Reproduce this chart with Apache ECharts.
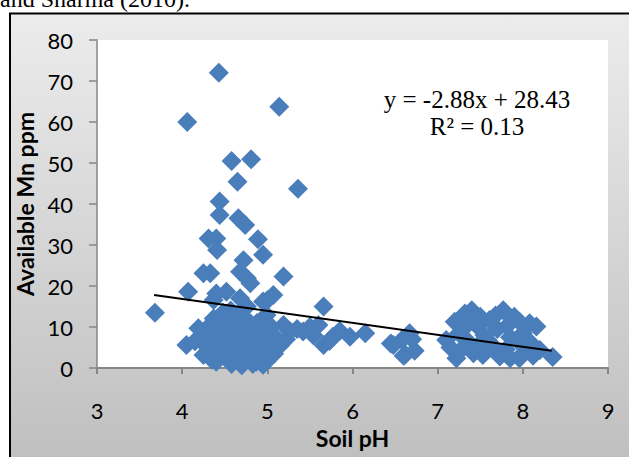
<!DOCTYPE html>
<html>
<head>
<meta charset="utf-8">
<title>Soil pH vs Available Mn</title>
<script src="https://cdn.jsdelivr.net/npm/echarts@6/dist/echarts.min.js"></script>
<style>
  html, body { margin: 0; padding: 0; background: #fff; }
  #chart { width: 629px; height: 457px; }
</style>
</head>
<body>
<div id="chart"></div>
<script>
// soil pH (x) and available Mn in ppm (y)
const soilPh = [
  3.68, 4.06, 4.43, 5.14, 4.58, 4.81, 4.65, 5.36, 4.44, 4.44, 4.66, 4.74, 4.31, 4.40, 4.41, 4.89, 4.95,
  4.72, 4.25, 4.33, 4.68, 4.76, 5.19, 4.80, 4.07, 4.40, 4.52, 4.68, 5.07, 5.00, 5.66, 4.76, 4.95, 4.37,
  4.05, 4.19, 4.25, 4.37, 4.37, 4.40, 4.52, 4.54, 4.64, 4.70, 4.78, 4.87, 4.91, 4.99, 5.01, 5.11, 5.19,
  5.27, 4.80, 4.30, 4.33, 4.45, 4.47, 4.50, 4.55, 4.60, 4.62, 4.65, 4.70, 4.72, 4.75, 4.82, 4.85, 4.88,
  4.90, 4.93, 4.97, 5.03, 5.05, 5.08, 5.15, 5.22, 4.42, 4.48, 4.57, 4.28, 4.15, 4.35, 4.58, 4.68, 4.83,
  4.95, 4.52, 4.62, 4.73, 4.86, 5.00, 4.45, 4.55,
  5.42, 5.54, 5.66, 5.35, 5.50, 5.60, 5.73, 5.77, 5.85, 5.97, 6.15, 6.45, 6.48, 6.58, 6.60, 6.67, 6.73,
  6.70, 6.62,
  7.10, 7.20, 7.32, 7.40, 7.77, 7.61, 7.96, 8.08, 8.16, 7.47, 7.81, 7.22, 7.42, 7.53, 7.73, 7.85, 7.96,
  7.65, 8.04, 8.35, 8.20, 7.93, 7.34, 7.46, 7.25, 7.55, 7.70, 7.85, 8.00, 8.10, 7.60, 7.30, 7.50, 7.68,
  7.90, 8.00, 7.80, 7.15, 7.28, 8.12, 7.38
];
const availableMn = [
  13.5, 60.0, 72.0, 63.7, 50.5, 50.9, 45.4, 43.7, 40.6, 37.3, 36.5, 34.9, 31.6, 31.6, 28.8, 31.4, 27.6,
  26.3, 23.1, 23.1, 23.5, 21.9, 22.3, 20.7, 18.6, 18.2, 18.6, 17.0, 17.8, 16.5, 15.0, 15.0, 16.2, 16.6,
  5.6, 9.7, 3.2, 7.2, 12.1, 1.5, 11.3, 3.2, 7.2, 0.7, 4.8, 1.5, 8.0, 12.9, 4.0, 7.2, 10.5,
  8.9, 10.9, 5.0, 10.5, 8.5, 4.5, 6.0, 9.0, 2.0, 5.0, 12.5, 9.5, 3.5, 6.5, 8.5, 3.0, 11.0,
  5.5, 2.5, 9.5, 6.0, 10.0, 3.5, 5.5, 7.0, 3.0, 13.5, 14.0, 7.5, 6.5, 2.0, 1.0, 2.8, 1.0,
  0.8, 7.5, 10.2, 12.0, 6.2, 1.8, 11.0, 5.5,
  8.9, 8.0, 5.6, 9.5, 10.0, 10.5, 6.6, 7.6, 9.0, 7.6, 8.5, 6.0, 5.6, 6.8, 3.0, 8.5, 4.2,
  7.0, 3.3,
  6.8, 11.3, 13.3, 14.1, 14.1, 11.7, 11.3, 10.9, 10.1, 10.1, 10.1, 2.4, 3.6, 3.2, 2.8, 2.4, 2.4,
  5.2, 5.2, 2.7, 4.4, 6.8, 6.8, 5.2, 8.5, 8.0, 9.5, 7.5, 8.5, 6.0, 6.5, 9.5, 12.5, 12.8,
  12.5, 3.5, 4.5, 5.0, 4.5, 3.0, 11.8
];

// linear trendline end points as drawn
const trendPh = [3.67, 8.34];
const trendMn = [17.8, 4.2];

const equationLines = ['y = -2.88x + 28.43', 'R² = 0.13'];

const points = soilPh.map((x, i) => [x, availableMn[i]]);
const trend = trendPh.map((x, i) => [x, trendMn[i]]);

const chart = echarts.init(document.getElementById('chart'), null, { renderer: 'svg' });

const labelFont = 'Lato, "Open Sans", sans-serif';
const serifFont = '"Liberation Serif", "Times New Roman", serif';

const option = {
  animation: false,
  backgroundColor: '#fff',
  graphic: {
    elements: [
      {
        type: 'rect',
        z: -10,
        shape: { x: 10, y: 13.5, width: 640, height: 470 },
        style: {
          fill: new echarts.graphic.LinearGradient(0, 0, 0, 1, [
            { offset: 0, color: '#ececec' },
            { offset: 1, color: '#bdbdbd' }
          ]),
          stroke: '#000',
          lineWidth: 2
        }
      },
      {
        type: 'text',
        x: 0,
        y: -1,
        style: {
          text: 'and Sharma (2010).',
          font: '24px ' + serifFont,
          fill: '#000',
          verticalAlign: 'middle'
        }
      },
      {
        type: 'text',
        x: 477,
        y: 99,
        z: 10,
        style: {
          text: equationLines[0],
          font: '25px ' + serifFont,
          fill: '#000',
          align: 'center',
          verticalAlign: 'middle'
        }
      },
      {
        type: 'text',
        x: 477,
        y: 126,
        z: 10,
        style: {
          text: equationLines[1],
          font: '25px ' + serifFont,
          fill: '#000',
          align: 'center',
          verticalAlign: 'middle'
        }
      }
    ]
  },
  grid: {
    left: 97,
    top: 40,
    right: 21,
    bottom: 89,
    show: true,
    backgroundColor: '#fff',
    borderWidth: 0
  },
  xAxis: {
    type: 'value',
    min: 3,
    max: 9,
    interval: 1,
    name: 'Soil pH',
    nameLocation: 'middle',
    nameGap: 58,
    nameTextStyle: { fontFamily: labelFont, fontWeight: 'bold', fontSize: 23, color: '#000' },
    axisLine: { show: true, onZero: false, lineStyle: { color: '#868686', width: 2 } },
    axisTick: { show: true, length: 6, lineStyle: { color: '#868686', width: 2 } },
    axisLabel: { fontFamily: labelFont, fontSize: 22, color: '#000', margin: 31 },
    splitLine: { show: false }
  },
  yAxis: {
    type: 'value',
    min: 0,
    max: 80,
    interval: 10,
    name: 'Available Mn ppm',
    nameLocation: 'middle',
    nameGap: 47,
    nameTextStyle: { fontFamily: labelFont, fontWeight: 'bold', fontSize: 23, color: '#000' },
    axisLine: { show: true, onZero: false, lineStyle: { color: '#868686', width: 1.5 } },
    axisTick: { show: true, length: 8, lineStyle: { color: '#868686', width: 1.5 } },
    axisLabel: { fontFamily: labelFont, fontSize: 22, color: '#000', margin: 24 },
    splitLine: { show: false }
  },
  series: [
    {
      type: 'scatter',
      data: points,
      symbol: 'diamond',
      symbolSize: 20,
      itemStyle: { color: '#4a7ebb', opacity: 1 },
      z: 2
    },
    {
      type: 'line',
      data: trend,
      symbol: 'none',
      lineStyle: { color: '#000', width: 2 },
      z: 5
    }
  ]
};

chart.setOption(option);
</script>
</body>
</html>
